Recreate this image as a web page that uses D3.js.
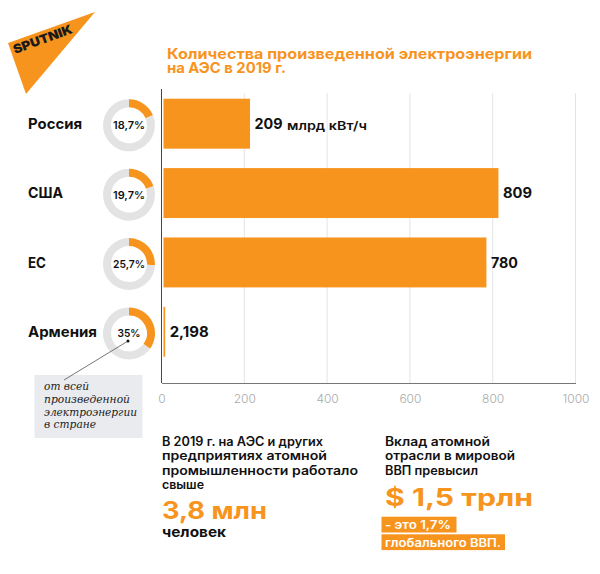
<!DOCTYPE html>
<html>
<head>
<meta charset="utf-8">
<script src="https://cdn.jsdelivr.net/npm/d3@7"></script>
<style>
	html, body { margin: 0; padding: 0; background: #fff; }
	svg { display: block; }
	text { font-family: Inter, "Noto Sans", sans-serif; }
</style>
</head>
<body>
<script>
const countries = ["Россия", "США", "ЕС", "Армения"];
const energy = [209, 809, 780, 2.198];
const energyLabels = ["209", "809", "780", "2,198"];
const shares = [18.7, 19.7, 25.7, 35];
const shareLabels = ["18,7%", "19,7%", "25,7%", "35%"];
const ticks = [0, 200, 400, 600, 800, 1000];

const titleLines = ["Количества произведенной электроэнергии", "на АЭС в 2019 г."];
const noteLines = ["от всей", "произведенной", "электроэнергии", "в стране"];
const leftLines = ["В 2019 г. на АЭС и других", "предприятиях атомной", "промышленности работало", "свыше"];
const rightLines = ["Вклад атомной", "отрасли в мировой", "ВВП превысил"];
const rightBoxes = ["- это 1,7%", "глобального ВВП."];

const orange = "#f7941e";
const width = 600;
const height = 574;

const svg = d3.select("body").append("svg").attr("width", width).attr("height", height);

// the original font is wider than anything installed, so stretch each line to its width
function stretch(sel, widths) {
	sel.attr("textLength", (d, i) => widths[i]).attr("lengthAdjust", "spacingAndGlyphs");
}

// logo
svg.append("path").attr("d", "M95,12 L8,43 L26,94 Z").attr("fill", orange);
svg.append("text")
	.attr("transform", "translate(15,54) rotate(-20)")
	.attr("textLength", 62)
	.attr("lengthAdjust", "spacingAndGlyphs")
	.style("font-size", "12.5px")
	.style("font-weight", 900)
	.style("fill", "#1a1a1a")
	.text("SPUTNIK");

// title
svg.selectAll(".title")
	.data(titleLines)
	.join("text")
	.attr("class", "title")
	.attr("x", 167)
	.attr("y", (d, i) => 58.5 + i * 14.5)
	.style("font-size", "14.5px")
	.style("font-weight", 700)
	.style("fill", orange)
	.text((d) => d)
	.call(stretch, [365, 119]);

// scales
const x = d3.scaleLinear().domain([0, 1000]).range([161.5, 575.5]);
const barX = d3.scaleLinear().domain([0, 1000]).range([163.5, 577.5]);
const y = d3.scaleBand().domain(countries).range([89, 366.5]).paddingInner(0.28).paddingOuter(0.14);

// grid
svg.selectAll(".grid")
	.data(ticks.slice(1))
	.join("line")
	.attr("class", "grid")
	.attr("x1", (d) => x(d))
	.attr("x2", (d) => x(d))
	.attr("y1", 93)
	.attr("y2", 383)
	.style("stroke", "#e4e4e4")
	.style("stroke-width", 1);

// bars, Armenia would vanish at its true width
svg.selectAll(".bar")
	.data(countries)
	.join("rect")
	.attr("class", "bar")
	.attr("x", barX(0))
	.attr("y", (d) => y(d))
	.attr("width", (d, i) => Math.max(barX(energy[i]) - barX(0), 1.7))
	.attr("height", y.bandwidth())
	.style("fill", orange);

// axes
const axis = svg.append("g")
	.attr("transform", "translate(0,383)")
	.call(d3.axisBottom(x).tickValues(ticks).tickSize(0).tickPadding(11).tickFormat((d) => d));
axis.select(".domain").style("stroke", "#777").style("stroke-width", 1);
axis.selectAll("text")
	.style("font-size", "12px")
	.style("font-family", "Inter")
	.style("font-weight", 300)
	.style("fill", "#aaa");
svg.append("line")
	.attr("x1", x(0))
	.attr("x2", x(0))
	.attr("y1", 89)
	.attr("y2", 383)
	.style("stroke", "#3c4a5c")
	.style("stroke-width", 1);

// value labels
svg.selectAll(".value")
	.data(countries)
	.join("text")
	.attr("class", "value")
	.attr("x", (d, i) => Math.max(barX(energy[i]), barX(0) + 1.7) + 4.5)
	.attr("y", (d) => y(d) + y.bandwidth() / 2 + 5.3)
	.style("font-size", "14.5px")
	.style("font-weight", 700)
	.style("fill", "#111")
	.text((d, i) => energyLabels[i])
	.call(stretch, [28, 29, 27, 39]);
svg.append("text")
	.attr("x", 287)
	.attr("y", y("Россия") + y.bandwidth() / 2 + 6)
	.attr("textLength", 80)
	.attr("lengthAdjust", "spacingAndGlyphs")
	.style("font-size", "12px")
	.style("font-weight", 600)
	.style("fill", "#111")
	.text("млрд кВт/ч");

// category labels
svg.selectAll(".country")
	.data(countries)
	.join("text")
	.attr("class", "country")
	.attr("x", 28)
	.attr("y", (d) => y(d) + y.bandwidth() / 2 + 5.3)
	.style("font-size", "14.5px")
	.style("font-weight", 700)
	.style("fill", "#111")
	.text((d) => d)
	.call(stretch, [54, 35, 18, 69]);

// donuts
const arc = d3.arc().innerRadius(18).outerRadius(26);
const pie = d3.pie().sort(null);
const donut = svg.selectAll(".donut")
	.data(countries)
	.join("g")
	.attr("class", "donut")
	.attr("transform", (d) => `translate(129,${y(d) + y.bandwidth() / 2 + 1.6})`);
donut.selectAll("path")
	.data((d, i) => pie([shares[i], 100 - shares[i]]))
	.join("path")
	.attr("d", arc)
	.style("fill", (d, i) => (i === 0 ? orange : "#e3e3e3"));
donut.append("text")
	.attr("text-anchor", "middle")
	.attr("y", 4)
	.style("font-size", "10.5px")
	.style("font-weight", 600)
	.style("fill", "#111")
	.text((d, i) => shareLabels[i])
	.call(stretch, [32, 32, 32, 23]);

// note
svg.append("rect")
	.attr("x", 34.5)
	.attr("y", 375)
	.attr("width", 108)
	.attr("height", 63)
	.style("fill", "#e9ebef");
svg.append("line")
	.attr("x1", 128)
	.attr("y1", 341)
	.attr("x2", 64)
	.attr("y2", 380)
	.style("stroke", "#555")
	.style("stroke-width", 0.8);
svg.append("circle").attr("cx", 128).attr("cy", 341).attr("r", 1.5).style("fill", "#111");
svg.selectAll(".note")
	.data(noteLines)
	.join("text")
	.attr("class", "note")
	.attr("x", 44)
	.attr("y", (d, i) => 390 + i * 12.8)
	.style("font-family", "DejaVu Serif")
	.style("font-style", "italic")
	.style("font-size", "10.8px")
	.style("fill", "#222")
	.text((d) => d)
	.call(stretch, [45, 86, 93, 52]);

// bottom left
svg.selectAll(".left")
	.data(leftLines)
	.join("text")
	.attr("class", "left")
	.attr("x", 162)
	.attr("y", (d, i) => 446 + i * 14.4)
	.style("font-size", "12.5px")
	.style("font-weight", 600)
	.style("fill", "#111")
	.text((d) => d)
	.call(stretch, [161, 165, 196, 42]);
svg.append("text")
	.attr("x", 162)
	.attr("y", 519)
	.attr("textLength", 105)
	.attr("lengthAdjust", "spacingAndGlyphs")
	.style("font-size", "24px")
	.style("font-weight", 700)
	.style("fill", orange)
	.text("3,8 млн");
svg.append("text")
	.attr("x", 162)
	.attr("y", 537)
	.attr("textLength", 64)
	.attr("lengthAdjust", "spacingAndGlyphs")
	.style("font-size", "14px")
	.style("font-weight", 700)
	.style("fill", "#111")
	.text("человек");

// bottom right
svg.selectAll(".right")
	.data(rightLines)
	.join("text")
	.attr("class", "right")
	.attr("x", 385)
	.attr("y", (d, i) => 446 + i * 14.4)
	.style("font-size", "12.5px")
	.style("font-weight", 600)
	.style("fill", "#111")
	.text((d) => d)
	.call(stretch, [105, 130, 93]);
svg.append("text")
	.attr("x", 385)
	.attr("y", 506)
	.attr("textLength", 148)
	.attr("lengthAdjust", "spacingAndGlyphs")
	.style("font-size", "24px")
	.style("font-weight", 700)
	.style("fill", orange)
	.text("$ 1,5 трлн");
svg.selectAll(".rightBox")
	.data(rightBoxes)
	.join("rect")
	.attr("class", "rightBox")
	.attr("x", 381.5)
	.attr("y", (d, i) => 516.7 + i * 17.6)
	.attr("width", (d, i) => (i === 0 ? 75 : 123.5))
	.attr("height", 15.8)
	.style("fill", orange);
svg.selectAll(".rightBoxText")
	.data(rightBoxes)
	.join("text")
	.attr("class", "rightBoxText")
	.attr("x", 385)
	.attr("y", (d, i) => 529 + i * 17.6)
	.style("font-size", "11.5px")
	.style("font-weight", 600)
	.style("fill", "#fff")
	.text((d) => d)
	.call(stretch, [66, 116]);
</script>
</body>
</html>
